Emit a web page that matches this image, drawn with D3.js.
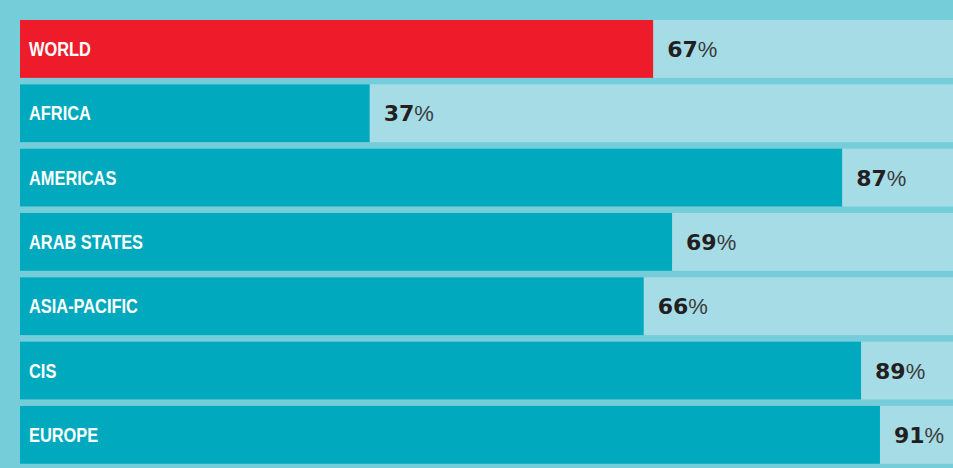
<!DOCTYPE html>
<html>
<head>
<meta charset="utf-8">
<script src="https://cdn.jsdelivr.net/npm/d3@7"></script>
<style>
  html, body { margin: 0; padding: 0; background: #74cdd9; }
  svg { display: block; }
</style>
</head>
<body>
<svg id="chart" width="953" height="468"></svg>
<script>
// Share of population by region (percent)
const regions = ["WORLD", "AFRICA", "AMERICAS", "ARAB STATES", "ASIA-PACIFIC", "CIS", "EUROPE"];
const values = [67, 37, 87, 69, 66, 89, 91];
const highlight = ["WORLD"];

const width = 953, height = 468;
const colors = {
  background: "#74cdd9",
  track: "#a6dce6",
  bar: "#00a9bd",
  highlight: "#ee1c2b",
  label: "#ffffff",
  value: "#231f20",
  percent: "#3a3a3a"
};

const svg = d3.select("#chart");

svg.append("rect")
  .attr("width", width).attr("height", height)
  .attr("fill", colors.background);

const x = d3.scaleLinear().domain([0, 100]).range([20, 965]);
const y = d3.scaleBand().domain(regions).range([20, 463.8]).paddingInner(0.1).paddingOuter(0);

const data = regions.map((r, i) => ({ region: r, value: values[i] }));

const rows = svg.selectAll("g.row").data(data).join("g")
  .attr("class", "row")
  .attr("transform", d => `translate(0,${y(d.region)})`);

// full-width track
rows.append("rect")
  .attr("x", x(0))
  .attr("width", x(100) - x(0))
  .attr("height", y.bandwidth())
  .attr("fill", colors.track);

// value bar
rows.append("rect")
  .attr("x", x(0))
  .attr("width", d => x(d.value) - x(0))
  .attr("height", y.bandwidth())
  .attr("fill", d => highlight.includes(d.region) ? colors.highlight : colors.bar);

const mid = y.bandwidth() / 2;

// region name inside the bar, set in a narrowed bold grotesque
rows.append("text")
  .attr("transform", `translate(${x(0) + 9},${mid + 7.2}) scale(0.82,1)`)
  .attr("fill", colors.label)
  .style("font-family", "'Liberation Sans', Arial, sans-serif")
  .style("font-weight", "bold")
  .style("font-size", "20px")
  .text(d => d.region);

// value label after the bar end
const vl = rows.append("text")
  .attr("x", d => x(d.value) + 14)
  .attr("y", mid + 8);

vl.append("tspan")
  .attr("fill", colors.value)
  .style("font-family", "'DejaVu Sans', sans-serif")
  .style("font-weight", "bold")
  .style("font-size", "22px")
  .text(d => d.value);

vl.append("tspan")
  .attr("fill", colors.percent)
  .style("font-family", "'Liberation Sans', Arial, sans-serif")
  .style("font-weight", "normal")
  .style("font-size", "22px")
  .text("%");
</script>
</body>
</html>
